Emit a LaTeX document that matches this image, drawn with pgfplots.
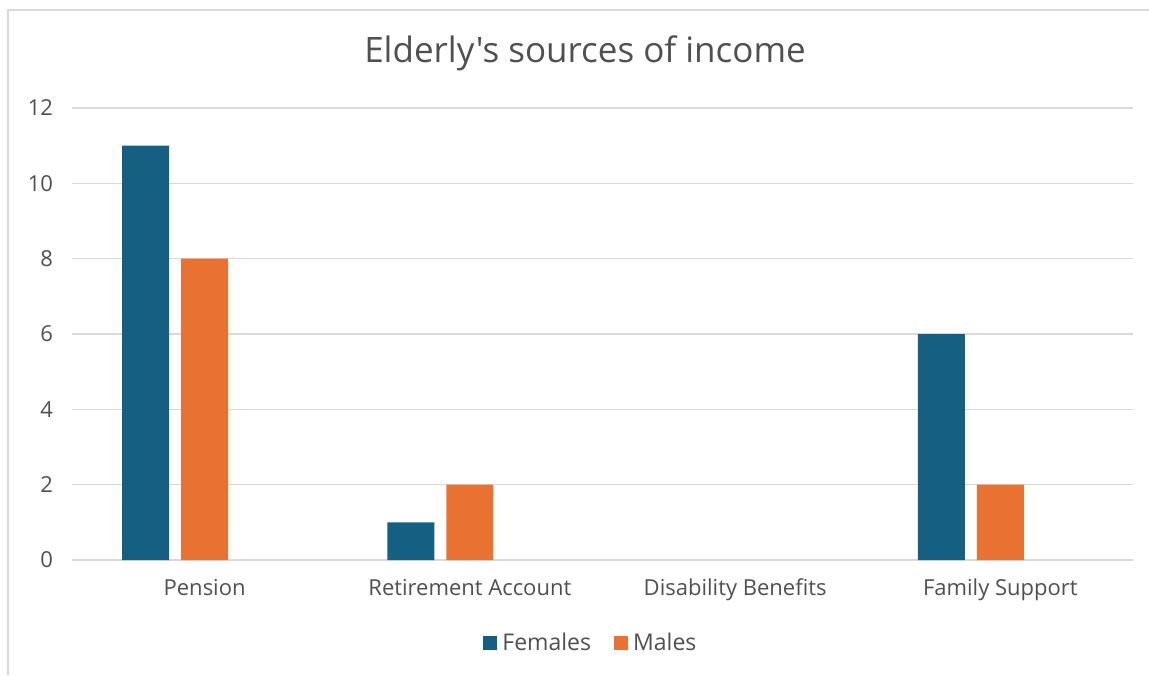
\documentclass[border=0pt]{standalone}
\usepackage{pgfplots}
\pgfplotsset{compat=1.18}
\usepackage{fontspec}
\setmainfont{Open Sans}[Ligatures=TeXOff]
\definecolor{fem}{HTML}{156082}
\definecolor{mal}{HTML}{E97132}
\definecolor{gridc}{HTML}{D9D9D9}
\definecolor{txt}{HTML}{505050}
\begin{document}
\begin{tikzpicture}
\useasboundingbox (0,0) rectangle (574.5pt,337.5pt);
\draw[gridc, line width=0.8pt] (4pt,0) -- (4pt,332.5pt) -- (574.5pt,332.5pt);
\begin{axis}[
  at={(36pt,57.5pt)}, anchor=south west,
  scale only axis, width=530.5pt, height=226pt,
  xmin=-0.5, xmax=3.5, ymin=0, ymax=12,
  ytick={0,2,4,6,8,10,12},
  xtick={0,1,2,3},
  xticklabels={Pension,Retirement Account,Disability Benefits,Family Support},
  major tick length=0pt,
  axis line style={draw=none},
  ymajorgrids, grid style={gridc, line width=0.8pt},
  ybar, bar width=23.5pt,
  tick label style={font=\fontsize{11pt}{13pt}\selectfont, text=txt},
  /pgf/number format/assume math mode=true,
  yticklabel style={xshift=-6pt},
  xticklabel style={yshift=-6pt},
  every axis title shift=0pt,
  title={Elderly's sources of income},
  title style={font=\fontsize{17.5pt}{20pt}\selectfont, text=txt, at={(0.4835,1.122)}, anchor=center},
  legend style={at={(0.4905,-0.184)}, anchor=center, draw=none, font=\fontsize{11.5pt}{13pt}\selectfont, text=txt,
    legend columns=2, /tikz/every even column/.append style={column sep=9pt},
    nodes={inner xsep=2.5pt}},
  legend image code/.code={\fill[#1] (-1.2pt,-3.5pt) rectangle (5.8pt,3.5pt);},
]
\addplot[fill=fem, draw=none, bar shift=-29.5pt] coordinates {(0,11) (1,1) (3,6)};
\addlegendentry{Females}
\addplot[fill=mal, draw=none, bar shift=0pt] coordinates {(0,8) (1,2) (3,2)};
\addlegendentry{Males}
\end{axis}
\end{tikzpicture}
\end{document}
